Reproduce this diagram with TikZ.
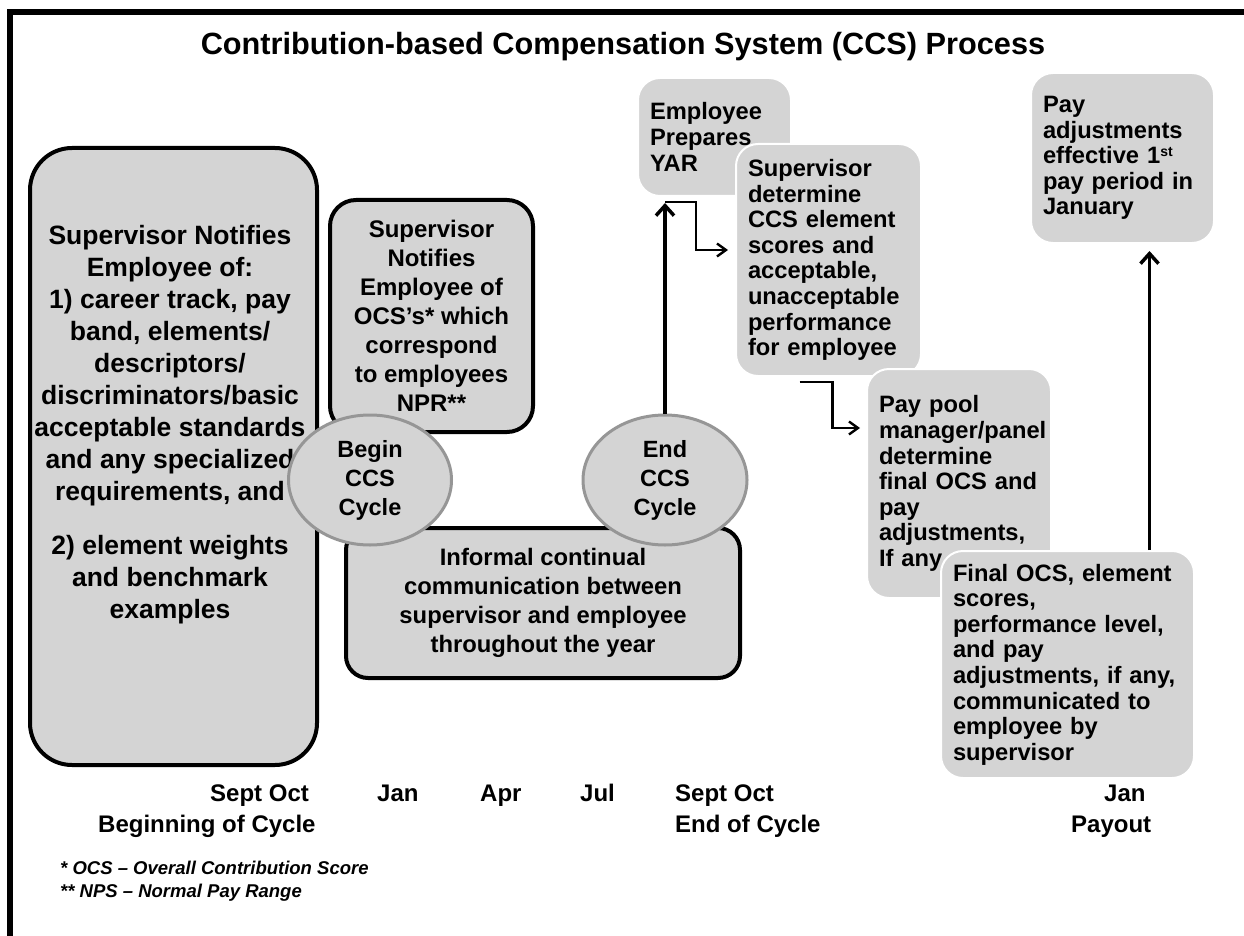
\documentclass[tikz,border=0pt]{standalone}
\usepackage{fontspec}
\setmainfont{Liberation Sans}
\usepackage{tikz}
\usetikzlibrary{shapes.geometric,arrows.meta,calc}
\definecolor{boxgray}{RGB}{212,212,212}
\definecolor{rimgray}{RGB}{150,150,150}

\begin{document}
\begin{tikzpicture}[x=1pt,y=-1pt,line join=miter,
  blackbox/.style={draw,line width=4pt,fill=boxgray,inner sep=0pt,rounded corners=26pt},
  graybox/.style={fill=boxgray,draw=white,line width=2pt,rounded corners=22pt,anchor=north west,
    align=left,inner xsep=12pt,inner ysep=0pt,font=\fontsize{23.7}{25.6}\selectfont\bfseries},
  cyclebubble/.style={ellipse,draw=rimgray,line width=3pt,fill=boxgray,inner sep=0pt,align=center,
    font=\fontsize{23.5}{29}\selectfont\bfseries},
  monthlabel/.style={anchor=base west,inner sep=0pt,font=\fontsize{24}{28}\selectfont\bfseries},
  footlabel/.style={anchor=base west,inner sep=0pt,font=\fontsize{18.5}{22}\selectfont\bfseries\itshape},
  mainarrow/.style={line width=3.5pt,-{Straight Barb[length=10pt,width=18pt]}},
  elbowarrow/.style={line width=2.4pt,-{Straight Barb[length=9pt,width=13pt]}},
]
%%
\useasboundingbox (0,0) rectangle (1244,936);
\draw [line width=6pt] (10,12) rectangle (1290,980);
\node (title) at (623,55) [anchor=base,inner sep=0pt,font=\fontsize{30.7}{36}\selectfont\bfseries] {Contribution-based Compensation System (CCS) Process};
% boxes of the cycle
\node (notify) at (173.5,456.5) [blackbox,rounded corners=42pt,minimum width=287pt,minimum height=617pt] {};
\node (notifytext) at (170,425) [align=center,inner sep=0pt,font=\fontsize{26.5}{32}\selectfont\bfseries] {Supervisor Notifies\\Employee of:\\1) career track, pay\\band, elements/\\descriptors/\\discriminators/basic\\acceptable standards\\and any specialized\\requirements, and\\[22pt]2) element weights\\and benchmark\\examples};
\node (ocsnote) at (431.5,316) [blackbox,minimum width=203pt,minimum height=232pt,align=center,font=\fontsize{24}{29}\selectfont\bfseries] {Supervisor\\Notifies\\Employee of\\OCS’s* which\\correspond\\to employees\\NPR**};
\node (informal) at (543,603) [blackbox,rounded corners=22pt,minimum width=394pt,minimum height=150pt,align=center,font=\fontsize{23.8}{29}\selectfont\bfseries] {Informal continual\\communication between\\supervisor and employee\\throughout the year};
\node (begincyc) at (370,480) [cyclebubble,minimum width=163pt,minimum height=130pt] {Begin\\CCS\\Cycle};
\node (endcyc) at (665,480) [cyclebubble,minimum width=164pt,minimum height=130pt] {End\\CCS\\Cycle};
% end of cycle and payout
\node (yar) at (637,77) [graybox,text width=129pt,minimum height=118pt] {Employee\\Prepares\\YAR};
\node (supdet) at (735,143) [graybox,text width=161pt,minimum height=232pt] {Supervisor\\determine\\CCS element\\scores and\\acceptable,\\unacceptable\\performance\\for employee};
\node (paypool) at (866,368) [graybox,text width=160pt,minimum height=229pt] {Pay pool\\\mbox{manager/panel}\\determine\\final OCS and\\pay\\adjustments,\\If any};
\node (finalocs) at (940,550) [graybox,text width=229pt,minimum height=227pt] {Final OCS, element\\scores,\\performance level,\\and pay\\adjustments, if any,\\communicated to\\employee by\\supervisor};
\node (payadj) at (1030,72) [graybox,text width=159pt,minimum height=170pt] {Pay\\adjustments\\effective 1\raisebox{7pt}{\fontsize{14}{14}\selectfont st}\\pay period in\\January};
% connectors
\coordinate (yarfoot) at ($(endcyc.north |- yar.south)+(0,5)$);
\coordinate (detfoot) at ($(supdet.south)+(-29,5)$);
\coordinate (payfoot) at ($(finalocs.north)+(82,0)$);
\draw [mainarrow,shorten >=6pt] (endcyc.north) -- (endcyc.north |- yar.south);
\draw [elbowarrow,shorten >=7pt] (yarfoot) -- ++(31,0) |- (supdet.west |- 0,250);
\draw [elbowarrow,shorten >=6pt] (detfoot) -- ++(33,0) |- (paypool.west |- 0,428);
\draw [mainarrow,shorten >=7pt] (payfoot) -- (payfoot |- payadj.south);
% time line
\node (septA) at (210,801) [monthlabel] {Sept Oct};
\node (janA) at (377,801) [monthlabel] {Jan};
\node (apr) at (480,801) [monthlabel] {Apr};
\node (jul) at (580,801) [monthlabel] {Jul};
\node (septB) at (675,801) [monthlabel] {Sept Oct};
\node (janB) at (1104,801) [monthlabel] {Jan};
\node (cyclestart) at (98,832) [monthlabel] {Beginning of Cycle};
\node (cycleend) at (675,832) [monthlabel] {End of Cycle};
\node (payout) at (1071,832) [monthlabel] {Payout};
\node (noteA) at (60,874) [footlabel] {* OCS – Overall Contribution Score};
\node (noteB) at (60,897) [footlabel] {** NPS – Normal Pay Range};
%
\end{tikzpicture}
\end{document}
